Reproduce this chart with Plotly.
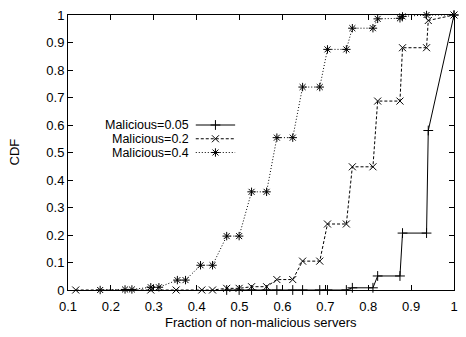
import plotly.graph_objects as go

# Data
m05_x = [0.470, 0.499, 0.528, 0.563, 0.587, 0.624, 0.647, 0.687, 0.705, 0.749,
         0.763, 0.811, 0.822, 0.874, 0.880, 0.936, 0.940, 1.0]
m05_y = [0, 0, 0, 0, 0, 0, 0, 0, 0, 0,
         0.008, 0.008, 0.051, 0.051, 0.207, 0.207, 0.58, 1.0]

m02_x = [0.118, 0.293, 0.352, 0.412, 0.437, 0.470, 0.499, 0.528, 0.563, 0.587,
         0.624, 0.647, 0.687, 0.705, 0.749, 0.763, 0.811, 0.822, 0.874, 0.880,
         0.936, 0.940, 1.0]
m02_y = [0, 0, 0, 0, 0, 0.006, 0.006, 0.012, 0.012, 0.038,
         0.038, 0.105, 0.105, 0.240, 0.240, 0.448, 0.448, 0.687, 0.687, 0.881,
         0.881, 0.980, 1.0]

m04_x = [0.175, 0.233, 0.249, 0.293, 0.312, 0.355, 0.374, 0.409, 0.437, 0.470,
         0.499, 0.528, 0.563, 0.587, 0.624, 0.647, 0.687, 0.705, 0.749, 0.763,
         0.811, 0.822, 0.874, 0.880, 0.936, 1.0]
m04_y = [0, 0.002, 0.002, 0.010, 0.010, 0.036, 0.036, 0.090, 0.090, 0.196,
         0.196, 0.357, 0.357, 0.554, 0.554, 0.738, 0.738, 0.875, 0.875, 0.952,
         0.952, 0.986, 0.988, 0.995, 1.0, 1.0]

labels = ["Malicious=0.05", "Malicious=0.2", "Malicious=0.4"]
x_ticks = [0.1, 0.2, 0.3, 0.4, 0.5, 0.6, 0.7, 0.8, 0.9, 1.0]
x_tick_text = ["0.1", "0.2", "0.3", "0.4", "0.5", "0.6", "0.7", "0.8", "0.9", "1"]
y_ticks = [0, 0.1, 0.2, 0.3, 0.4, 0.5, 0.6, 0.7, 0.8, 0.9, 1.0]
y_tick_text = ["0", "0.1", "0.2", "0.3", "0.4", "0.5", "0.6", "0.7", "0.8", "0.9", "1"]
x_title = "Fraction of non-malicious servers"
y_title = "CDF"

FONT = "Liberation Sans, Arial, sans-serif"

styles = [
    dict(dash="solid", symbol="cross-thin"),
    dict(dash="3px,2px", symbol="x-thin"),
    dict(dash="1px,2px", symbol="asterisk"),
]
series = [(m05_x, m05_y), (m02_x, m02_y), (m04_x, m04_y)]

fig = go.Figure()
for (xs, ys), st, name in zip(series, styles, labels):
    fig.add_trace(go.Scatter(
        x=xs, y=ys, mode="lines+markers", name=name, cliponaxis=False,
        line=dict(color="black", width=1, dash=st["dash"]),
        marker=dict(symbol=st["symbol"], size=7, color="black",
                    line=dict(color="black", width=1)),
        showlegend=False,
    ))

# gnuplot-style key: text right-aligned, sample to its right
key_rows = [0.600, 0.550, 0.500]
for st, name, ky in zip(styles, labels, key_rows):
    fig.add_trace(go.Scatter(
        x=[0.331, 0.433], y=[ky, ky], xaxis="x2", yaxis="y2",
        mode="lines", line=dict(color="black", width=1, dash=st["dash"]),
        showlegend=False, hoverinfo="skip",
    ))
    fig.add_trace(go.Scatter(
        x=[0.382], y=[ky], xaxis="x2", yaxis="y2", mode="markers",
        marker=dict(symbol=st["symbol"], size=7, color="black",
                    line=dict(color="black", width=1)),
        showlegend=False, hoverinfo="skip",
    ))
    fig.add_annotation(
        x=0.315, y=ky, xref="x2", yref="y2", text=name, showarrow=False,
        xanchor="right", yanchor="middle", height=12, borderpad=0,
        font=dict(family=FONT, size=12.5, color="black"),
    )

# axis titles placed like gnuplot's
fig.add_annotation(x=0.5, y=0, xref="paper", yref="paper", text=x_title,
                   showarrow=False, xanchor="center", yanchor="middle", yshift=-32,
                   font=dict(family=FONT, size=13, color="black"))
fig.add_annotation(x=0, y=0.5, xref="paper", yref="paper", text=y_title,
                   showarrow=False, xanchor="center", yanchor="middle", xshift=-54,
                   textangle=-90, font=dict(family=FONT, size=13, color="black"))

axis_common = dict(
    showgrid=False, zeroline=False, showline=True, linecolor="black", linewidth=1,
    mirror="ticks", ticks="inside", ticklen=5, tickcolor="black", tickwidth=1,
    tickfont=dict(family=FONT, size=13, color="black"),
)

fig.update_layout(
    width=466, height=337,
    margin=dict(l=68, r=8, t=10, b=47),
    paper_bgcolor="white", plot_bgcolor="white",
    font=dict(family=FONT, size=13, color="black"),
    xaxis=dict(range=[0.1, 1.0], tickvals=x_ticks, ticktext=x_tick_text,
               ticklabelstandoff=4, **axis_common),
    yaxis=dict(range=[0, 1.0], tickvals=y_ticks, ticktext=y_tick_text,
               **axis_common),
    xaxis2=dict(range=[0, 1], overlaying="x", visible=False, anchor="y2"),
    yaxis2=dict(range=[0, 1], overlaying="y", visible=False, anchor="x2"),
)

fig.write_html("out.html")
